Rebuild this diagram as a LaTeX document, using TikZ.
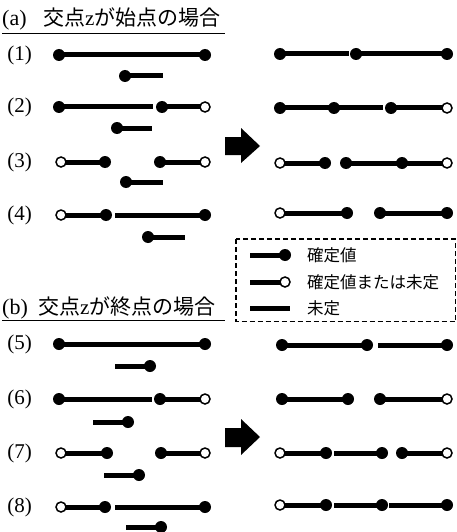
\documentclass[tikz,border=0pt]{standalone}
\usepackage{fontspec}
\setmainfont{Liberation Serif}
\newfontfamily\jp{Noto Sans CJK JP}
\usetikzlibrary{backgrounds}
\tikzset{
  fdot/.style={circle, fill=black, inner sep=0pt, minimum size=12pt},
  odot/.style={circle, draw=black, fill=white, line width=1.5pt, inner sep=0pt, minimum size=10pt},
  bar/.style={line width=5pt, black},
  rowlbl/.style={inner sep=0pt, font=\fontsize{21}{21}\selectfont},
  ttl/.style={inner sep=0pt, anchor=base west},
  legtxt/.style={inner sep=0pt, anchor=west, font=\jp\fontsize{16.5}{16.5}\selectfont},
  bigarrow/.style={fill=black},
}
\begin{document}
\begin{tikzpicture}[x=1pt,y=-1pt]
\useasboundingbox (0,0) rectangle (457,532);

% ---------- (a) heading ----------
\node[ttl, font=\fontsize{22}{22}\selectfont] (ta) at (2,26) {(a)};
\node[ttl, font=\jp\fontsize{21}{21}\selectfont] (tja) at (43,26) {交点{\rmfamily z}が始点の場合};
\draw[line width=0.9pt] (2,33) -- (225,33);

% ---------- (b) heading ----------
\node[ttl, font=\fontsize{22}{22}\selectfont] (tb) at (2,314.5) {(b)};
\node[ttl, font=\jp\fontsize{21}{21}\selectfont] (tjb) at (38,314.5) {交点{\rmfamily z}が終点の場合};
\draw[line width=0.9pt] (2,320.5) -- (225,320.5);

% ---------- row labels ----------
\node[rowlbl] (l1) at (19.5,55) {(1)};
\node[rowlbl] (l2) at (19.5,107) {(2)};
\node[rowlbl] (l3) at (19.5,162) {(3)};
\node[rowlbl] (l4) at (19.5,215) {(4)};
\node[rowlbl] (l5) at (19.5,344) {(5)};
\node[rowlbl] (l6) at (19.5,399) {(6)};
\node[rowlbl] (l7) at (19.5,453) {(7)};
\node[rowlbl] (l8) at (19.5,507) {(8)};

% ---------- left side, case (a) ----------
\node[fdot] (a1p) at (59,55) {};  \node[fdot] (a1q) at (205,55) {};
\node[fdot] (a1s) at (125,76) {}; \coordinate (a1t) at (163,76);

\node[fdot] (a2p) at (59,107) {}; \coordinate (a2q) at (153,107);
\node[fdot] (a2r) at (162,107) {}; \node[odot] (a2s) at (205,107) {};
\node[fdot] (a2u) at (117,128) {}; \coordinate (a2v) at (152,128);

\node[odot] (a3p) at (61,162) {}; \node[fdot] (a3q) at (105,162) {};
\node[fdot] (a3r) at (160,162) {}; \node[odot] (a3s) at (205,162) {};
\node[fdot] (a3u) at (126,182) {}; \coordinate (a3v) at (163,182);

\node[odot] (a4p) at (61,215) {}; \node[fdot] (a4q) at (106,215) {};
\coordinate (a4r) at (115,215); \node[fdot] (a4s) at (205,215) {};
\node[fdot] (a4u) at (148,237) {}; \coordinate (a4v) at (185,237);

% ---------- right side, case (a) ----------
\node[fdot] (A1p) at (280,54) {}; \coordinate (A1q) at (349,54);
\node[fdot] (A1r) at (356,54) {}; \node[fdot] (A1s) at (447,54) {};

\node[fdot] (A2p) at (280,108) {}; \node[fdot] (A2q) at (334,108) {};
\coordinate (A2r) at (383,108);
\node[fdot] (A2s) at (391,108) {}; \node[odot] (A2t) at (447,108) {};

\node[odot] (A3p) at (280,163) {}; \node[fdot] (A3q) at (325,163) {};
\node[fdot] (A3r) at (346,163) {}; \node[fdot] (A3s) at (402,163) {};
\node[odot] (A3t) at (447,163) {};

\node[odot] (A4p) at (280,213) {}; \node[fdot] (A4q) at (347,213) {};
\node[fdot] (A4r) at (380,213) {}; \node[fdot] (A4s) at (447,213) {};

% ---------- left side, case (b) ----------
\node[fdot] (b5p) at (59,344) {}; \node[fdot] (b5q) at (205,344) {};
\coordinate (b5u) at (115,366); \node[fdot] (b5v) at (150,366) {};

\node[fdot] (b6p) at (59,399) {}; \coordinate (b6q) at (152,399);
\node[fdot] (b6r) at (160,399) {}; \node[odot] (b6s) at (205,399) {};
\coordinate (b6u) at (93,422); \node[fdot] (b6v) at (128,422) {};

\node[odot] (b7p) at (61,453) {}; \node[fdot] (b7q) at (107,453) {};
\node[fdot] (b7r) at (161,453) {}; \node[odot] (b7s) at (205,453) {};
\coordinate (b7u) at (104,475); \node[fdot] (b7v) at (139,475) {};

\node[odot] (b8p) at (61,507) {}; \node[fdot] (b8q) at (105,507) {};
\coordinate (b8r) at (115,507); \node[fdot] (b8s) at (205,507) {};
\coordinate (b8u) at (126,527); \node[fdot] (b8v) at (161,527) {};

% ---------- right side, case (b) ----------
\node[fdot] (B5p) at (282,345) {}; \node[fdot] (B5q) at (367,345) {};
\coordinate (B5r) at (378,345); \node[fdot] (B5s) at (447,345) {};

\node[fdot] (B6p) at (282,399) {}; \node[fdot] (B6q) at (348,399) {};
\node[fdot] (B6r) at (380,399) {}; \node[odot] (B6s) at (447,399) {};

\node[odot] (B7p) at (280,453) {}; \node[fdot] (B7q) at (326,453) {};
\coordinate (B7r) at (334,453); \node[fdot] (B7s) at (382,453) {};
\node[fdot] (B7t) at (402,453) {}; \node[odot] (B7u) at (447,453) {};

\node[odot] (B8p) at (280,505) {}; \node[fdot] (B8q) at (326,505) {};
\coordinate (B8r) at (334,505); \node[fdot] (B8s) at (382,505) {};
\coordinate (B8t) at (389,505); \node[fdot] (B8u) at (447,505) {};

% ---------- legend ----------
\draw[line width=1.3pt, dash pattern=on 5pt off 3pt] (236,239) rectangle (455.5,321.5);
\coordinate (g1a) at (250,255); \node[fdot] (g1b) at (285,255) {};
\coordinate (g2a) at (250,282); \node[odot] (g2b) at (285,282) {};
\coordinate (g3a) at (250,308); \coordinate (g3b) at (290,308);
\node[legtxt] (t1) at (307,255) {確定値};
\node[legtxt] (t2) at (307,282) {確定値または未定};
\node[legtxt] (t3) at (307,308) {未定};

% ---------- bars, kept under the end dots ----------
\begin{scope}[on background layer]
  \draw[bar] (a1p.center) -- (a1q.center);
  \draw[bar] (a1s.center) -- (a1t);
  \draw[bar] (a2p.center) -- (a2q);
  \draw[bar] (a2r.center) -- (a2s.center);
  \draw[bar] (a2u.center) -- (a2v);
  \draw[bar] (a3p.center) -- (a3q.center);
  \draw[bar] (a3r.center) -- (a3s.center);
  \draw[bar] (a3u.center) -- (a3v);
  \draw[bar] (a4p.center) -- (a4q.center);
  \draw[bar] (a4r) -- (a4s.center);
  \draw[bar] (a4u.center) -- (a4v);

  \draw[bar] (A1p.center) -- (A1q);
  \draw[bar] (A1r.center) -- (A1s.center);
  \draw[bar] (A2p.center) -- (A2q.center) -- (A2r);
  \draw[bar] (A2s.center) -- (A2t.center);
  \draw[bar] (A3p.center) -- (A3q.center);
  \draw[bar] (A3r.center) -- (A3s.center) -- (A3t.center);
  \draw[bar] (A4p.center) -- (A4q.center);
  \draw[bar] (A4r.center) -- (A4s.center);

  \draw[bar] (b5p.center) -- (b5q.center);
  \draw[bar] (b5u) -- (b5v.center);
  \draw[bar] (b6p.center) -- (b6q);
  \draw[bar] (b6r.center) -- (b6s.center);
  \draw[bar] (b6u) -- (b6v.center);
  \draw[bar] (b7p.center) -- (b7q.center);
  \draw[bar] (b7r.center) -- (b7s.center);
  \draw[bar] (b7u) -- (b7v.center);
  \draw[bar] (b8p.center) -- (b8q.center);
  \draw[bar] (b8r) -- (b8s.center);
  \draw[bar] (b8u) -- (b8v.center);

  \draw[bar] (B5p.center) -- (B5q.center);
  \draw[bar] (B5r) -- (B5s.center);
  \draw[bar] (B6p.center) -- (B6q.center);
  \draw[bar] (B6r.center) -- (B6s.center);
  \draw[bar] (B7p.center) -- (B7q.center);
  \draw[bar] (B7r) -- (B7s.center);
  \draw[bar] (B7t.center) -- (B7u.center);
  \draw[bar] (B8p.center) -- (B8q.center);
  \draw[bar] (B8r) -- (B8s.center);
  \draw[bar] (B8t) -- (B8u.center);

  \draw[bar] (g1a) -- (g1b.center);
  \draw[bar] (g2a) -- (g2b.center);
  \draw[bar] (g3a) -- (g3b);
\end{scope}

% ---------- block arrows ----------
\fill[bigarrow] (225,137) -- (241,137) -- (241,128) -- (260,146) -- (241,163) -- (241,155) -- (225,155) -- cycle;
\fill[bigarrow] (225,428) -- (241,428) -- (241,419) -- (260,437) -- (241,455) -- (241,447) -- (225,447) -- cycle;
\end{tikzpicture}
\end{document}
